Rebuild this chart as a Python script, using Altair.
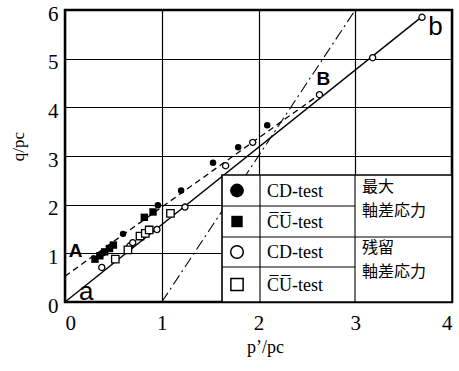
import altair as alt
import pandas as pd

# ---- data ----
cd_peak_x = [0.39, 0.60, 0.96, 1.20, 1.53, 1.79, 2.09]
cd_peak_y = [1.00, 1.40, 1.99, 2.29, 2.86, 3.18, 3.63]

cu_peak_x = [0.31, 0.36, 0.41, 0.46, 0.50, 0.82, 0.91]
cu_peak_y = [0.88, 0.95, 1.03, 1.10, 1.17, 1.74, 1.85]

cd_res_x = [0.38, 0.67, 0.70, 0.95, 1.24, 1.66, 1.94, 2.63, 3.18, 3.69]
cd_res_y = [0.71, 1.15, 1.22, 1.49, 1.95, 2.80, 3.28, 4.26, 5.02, 5.85]

cu_res_x = [0.52, 0.65, 0.775, 0.83, 0.87, 1.09]
cu_res_y = [0.88, 1.07, 1.355, 1.41, 1.48, 1.82]

# reference lines
line_ab_x = [0.0, 3.70]     # a - b (solid)
line_ab_y = [0.0, 5.88]
line_AB_x = [0.0, 2.62]     # A - B (dashed)
line_AB_y = [0.53, 4.25]
line_cs_x = [1.0, 3.0]      # dash-dot
line_cs_y = [0.0, 6.0]

# annotation letters
lab_upper_text = ["A", "B"]
lab_upper_x = [0.11, 2.67]
lab_upper_y = [0.92, 4.46]
lab_lower_text = ["a", "b"]
lab_lower_x = [0.22, 3.83]
lab_lower_y = [0.04, 5.48]

x_ticks = [0, 1, 2, 3, 4]
y_ticks = [0, 1, 2, 3, 4, 5, 6]

W, H = 387, 292
SERIF = "Liberation Serif"
SANS = "Liberation Sans"
CJK = "Noto Sans CJK JP"

xs = alt.Scale(domain=[0, 4], nice=False, zero=False)
ys = alt.Scale(domain=[0, 6], nice=False, zero=False)

X = alt.X("x:Q", scale=xs, axis=alt.Axis(
    values=x_ticks, title="p’/pc", grid=True, ticks=False, domain=False,
    labelFont=SERIF, labelFontSize=21, labelPadding=10, labelColor="black",
    titleFont=SERIF, titleFontSize=18, titleFontWeight="normal", titleColor="black",
    titleX=200, titleY=50, titleBaseline="alphabetic", titleAlign="center"))
Y = alt.Y("y:Q", scale=ys, axis=alt.Axis(
    values=y_ticks, title="q/pc", grid=True, ticks=False, domain=False,
    labelFont=SERIF, labelFontSize=21, labelPadding=7, labelOffset=4, labelColor="black",
    titleFont=SERIF, titleFontSize=17, titleFontWeight="normal", titleColor="black",
    titleAngle=-90, titleX=-42, titleY=136, titleBaseline="alphabetic", titleAlign="center"))


def df(xv, yv):
    return pd.DataFrame({"x": xv, "y": yv})


one = pd.DataFrame({"k": [0]})

lines = [
    alt.Chart(df(line_ab_x, line_ab_y)).mark_line(color="black", strokeWidth=1.4).encode(x=X, y=Y),
    alt.Chart(df(line_AB_x, line_AB_y)).mark_line(color="black", strokeWidth=1.3, strokeDash=[6, 4]).encode(x=X, y=Y),
    alt.Chart(df(line_cs_x, line_cs_y)).mark_line(color="black", strokeWidth=1.1, strokeDash=[11, 4, 2, 4]).encode(x=X, y=Y),
]

pts = [
    alt.Chart(df(cd_peak_x, cd_peak_y)).mark_point(shape="circle", filled=True, color="black", size=42, opacity=1).encode(x=X, y=Y),
    alt.Chart(df(cu_peak_x, cu_peak_y)).mark_point(shape="square", filled=True, color="black", size=55, opacity=1).encode(x=X, y=Y),
    alt.Chart(df(cd_res_x, cd_res_y)).mark_point(shape="circle", filled=True, fill="white", stroke="black", strokeWidth=1.3, size=38, opacity=1).encode(x=X, y=Y),
    alt.Chart(df(cu_res_x, cu_res_y)).mark_point(shape="square", filled=True, fill="white", stroke="black", strokeWidth=1.3, size=55, opacity=1).encode(x=X, y=Y),
]

# ---- legend table (pixel layout inside the plot area) ----
LX0, LX1, LX2, LX3 = 157, 195, 290, 387
LY0, LY1, LY2, LY3, LY4 = 165, 196, 227, 257, 292

leg = [
    alt.Chart(one).mark_rect(fill="white", stroke="black", strokeWidth=1.6).encode(
        x=alt.value(LX0), x2=alt.value(LX3), y=alt.value(LY0), y2=alt.value(LY4)),
]
for (xa, xb, ya, yb) in [(LX1, LX1, LY0, LY4), (LX2, LX2, LY0, LY4),
                         (LX0, LX2, LY1, LY1), (LX0, LX3, LY2, LY2), (LX0, LX2, LY3, LY3)]:
    leg.append(alt.Chart(one).mark_rule(color="black", strokeWidth=1.1).encode(
        x=alt.value(xa), x2=alt.value(xb), y=alt.value(ya), y2=alt.value(yb)))

row_c = [(LY0 + LY1) / 2, (LY1 + LY2) / 2, (LY2 + LY3) / 2, (LY3 + LY4) / 2]
sym_specs = [
    dict(shape="circle", filled=True, color="black", size=190),
    dict(shape="square", filled=True, color="black", size=130),
    dict(shape="circle", filled=True, fill="white", stroke="black", strokeWidth=1.5, size=160),
    dict(shape="square", filled=True, fill="white", stroke="black", strokeWidth=1.5, size=150),
]
leg_texts = ["CD-test", "C\u0305U\u0305-test", "CD-test", "C\u0305U\u0305-test"]
for i in range(4):
    leg.append(alt.Chart(one).mark_point(opacity=1, **sym_specs[i]).encode(
        x=alt.value(172), y=alt.value(row_c[i])))
    leg.append(alt.Chart(one).mark_text(font=SERIF, fontSize=18, align="left", baseline="middle", color="black").encode(
        x=alt.value(202), y=alt.value(row_c[i] + 1), text=alt.value(leg_texts[i])))

# group descriptions (one text mark per line)
group_lines = [("最大", 177), ("軸差応力", 201), ("残留", 238), ("軸差応力", 262)]
for t, yy in group_lines:
    leg.append(alt.Chart(one).mark_text(font=CJK, fontSize=16, align="left", baseline="middle", color="black").encode(
        x=alt.value(297), y=alt.value(yy), text=alt.value(t)))

labels = [
    alt.Chart(pd.DataFrame({"x": lab_upper_x, "y": lab_upper_y, "t": lab_upper_text})).mark_text(
        font=SANS, fontSize=19, fontWeight="bold", align="center", baseline="alphabetic", color="black").encode(
        x=X, y=Y, text="t:N"),
    alt.Chart(pd.DataFrame({"x": lab_lower_x, "y": lab_lower_y, "t": lab_lower_text})).mark_text(
        font=SANS, fontSize=26, align="center", baseline="alphabetic", color="black").encode(
        x=X, y=Y, text="t:N"),
]

chart = alt.layer(*lines, *pts, *leg, *labels).properties(
    width=W, height=H,
    autosize=alt.AutoSizeParams(type="none"),
    padding={"left": 65, "top": 10, "right": 7, "bottom": 69},
    background="white",
).configure_view(stroke="black", strokeWidth=2.5).configure_axis(
    gridColor="black", gridWidth=1.2, gridOpacity=1)

chart.save("out.html", embed_options={"renderer": "svg", "actions": False})
